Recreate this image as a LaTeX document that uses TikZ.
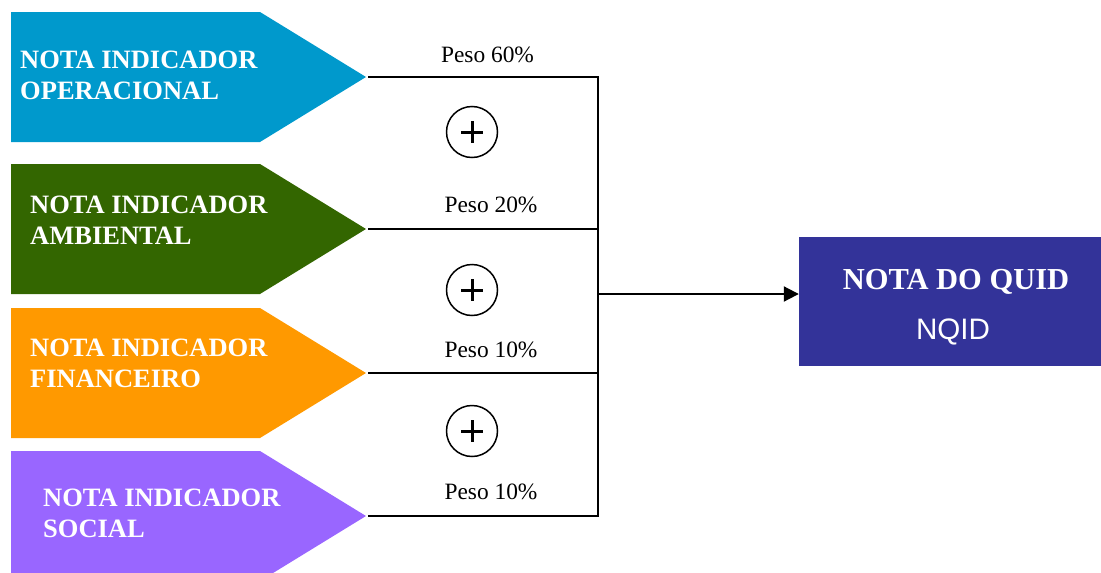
\documentclass[tikz,border=0pt]{standalone}
\usepackage{fontspec}
\setmainfont{Liberation Serif}
\setsansfont{Liberation Sans}
\usetikzlibrary{arrows.meta,calc}
\definecolor{opblue}{RGB}{0,153,204}
\definecolor{ambgreen}{RGB}{51,102,0}
\definecolor{finorange}{RGB}{255,153,0}
\definecolor{socpurple}{RGB}{153,102,255}
\definecolor{quidblue}{RGB}{51,51,153}

\begin{document}
\begin{tikzpicture}[x=1pt,y=-1pt,
  indtext/.style={text=white,font=\fontsize{26.5}{31}\selectfont\bfseries,
   align=left,anchor=west,inner sep=0pt},
  peso/.style={font=\fontsize{23.4}{26}\selectfont,anchor=base,inner sep=0pt},
  plus/.style={circle,draw,line width=1.5pt,minimum size=51pt,inner sep=0pt,
   path picture={\draw[line width=3pt]
    ($(path picture bounding box.center)+(-11,0)$) --
    ($(path picture bounding box.center)+(11,0)$)
    ($(path picture bounding box.center)+(0,-11)$) --
    ($(path picture bounding box.center)+(0,11)$);}},
  link/.style={line width=2pt}]
  \clip (0,0) rectangle (1101,573);
  % indicator arrows
  \foreach \y/\col/\name/\lx/\ty/\tx in {
    12/opblue/op/20/75.5/{NOTA INDICADOR\\OPERACIONAL},
    164/ambgreen/amb/30/220.5/{NOTA INDICADOR\\AMBIENTAL},
    308/finorange/fin/30/363.5/{NOTA INDICADOR\\FINANCEIRO},
    451/socpurple/soc/43/513.5/{NOTA INDICADOR\\SOCIAL}}{
    \fill[\col] (11,\y) -- (260,\y) -- (366,\y+65) -- (260,\y+130)
     -- (11,\y+130) -- cycle;
    \node[indtext] (\name) at (\lx,\ty) {\tx};
    \coordinate (\name-tip) at (368,\y+65);
    \coordinate (\name-j) at (598,\y+65);
    \draw[link] (\name-tip) -- (\name-j);
  }
  % weights
  \node[peso] (p60) at (487.5,62) {Peso 60\%};
  \node[peso] (p20) at (491,212) {Peso 20\%};
  \node[peso] (p10a) at (491,357) {Peso 10\%};
  \node[peso] (p10b) at (491,499) {Peso 10\%};
  \node[plus] (plus1) at (472,132) {};
  \node[plus] (plus2) at (472,290) {};
  \node[plus] (plus3) at (472,431) {};
  % result
  \node[fill=quidblue,text=white,minimum width=302pt,minimum height=129pt,
   inner sep=0pt,align=center,font=\fontsize{30.5}{50}\selectfont]
   (nqid) at (950,301.5)
   {\rule{0pt}{31pt}\hspace*{12pt}{\bfseries NOTA DO QUID}\\
    \hspace*{6pt}{\sffamily\fontsize{29.6}{50}\selectfont NQID}};
  \draw[link] ($(op-j)+(0,-1)$) -- ($(soc-j)+(0,1)$);
  \coordinate (mid) at (598,294);
  \draw[link,-{Triangle[length=15pt,width=15pt]}] (mid) -- (mid -| nqid.west);
\end{tikzpicture}
\end{document}
